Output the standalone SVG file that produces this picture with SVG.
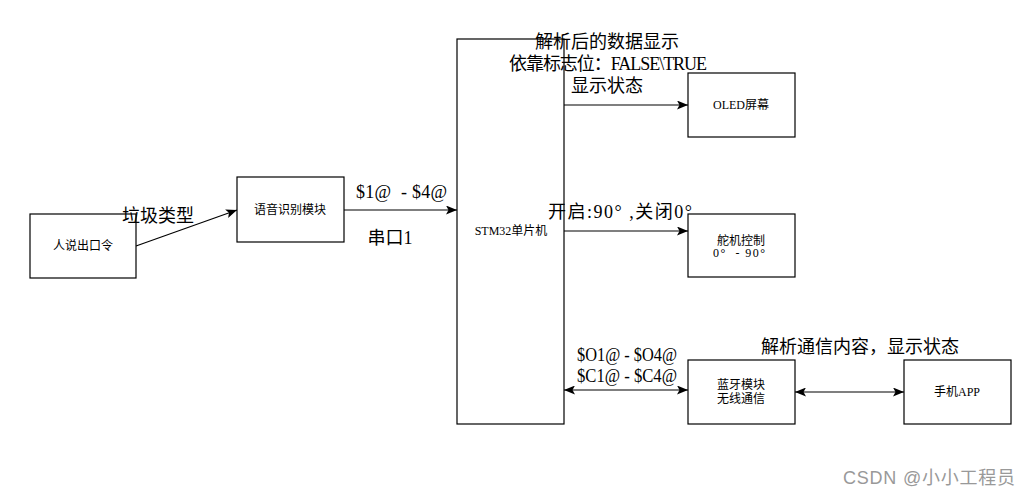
<svg xmlns="http://www.w3.org/2000/svg" width="1030" height="498" viewBox="0 0 1030 498">
<defs>
<style>
.box{fill:#fff;stroke:#000;stroke-width:1.2}
.ln{stroke:#000;stroke-width:1.2;fill:none}
.nl{font-family:"Liberation Serif","Noto Sans CJK SC",serif;font-size:12px;fill:#000;text-anchor:middle;dominant-baseline:central}
.lb{font-family:"Liberation Serif","Noto Sans CJK SC",serif;font-size:18px;fill:#000;text-anchor:middle;dominant-baseline:central}
.wm{font-family:"Liberation Sans","Noto Sans CJK SC",sans-serif;font-size:18px;fill:#999;dominant-baseline:central}
</style>
<marker id="ae" markerWidth="11" markerHeight="9" refX="11" refY="4.5" orient="auto" markerUnits="userSpaceOnUse"><path d="M0,0 L11,4.5 L0,9 L2.5,4.5 Z" fill="#000"/></marker>
<marker id="as" markerWidth="11" markerHeight="9" refX="0" refY="4.5" orient="auto" markerUnits="userSpaceOnUse"><path d="M11,0 L0,4.5 L11,9 L8.5,4.5 Z" fill="#000"/></marker>
</defs>
<rect width="1030" height="498" fill="#fff"/>
<g id="connectors">
<line class="ln" x1="136" y1="246" x2="237" y2="210" marker-end="url(#ae)"/>
<line class="ln" x1="344" y1="210" x2="457" y2="210" marker-end="url(#ae)"/>
<line class="ln" x1="564" y1="105" x2="688" y2="105" marker-end="url(#ae)"/>
<line class="ln" x1="564" y1="231" x2="688" y2="231" marker-end="url(#ae)"/>
<line class="ln" x1="564" y1="390" x2="688" y2="390" marker-start="url(#as)" marker-end="url(#ae)"/>
<line class="ln" x1="795" y1="392" x2="904" y2="392" marker-start="url(#as)" marker-end="url(#ae)"/>
</g>
<g id="node-person"><rect class="box" x="30" y="214" width="106" height="64"/><text class="nl" x="83" y="246">人说出口令</text></g>
<g id="node-voice"><rect class="box" x="237" y="177" width="107" height="65"/><text class="nl" x="290" y="210">语音识别模块</text></g>
<g id="node-stm32"><rect class="box" x="457" y="39" width="107" height="385"/><text class="nl" x="511" y="231">STM32单片机</text></g>
<g id="node-oled"><rect class="box" x="688" y="73" width="107" height="64"/><text class="nl" x="741" y="105">OLED屏幕</text></g>
<g id="node-servo"><rect class="box" x="688" y="214" width="107" height="63"/><text class="nl" x="741" y="241">舵机控制</text><text class="nl" x="739" y="253" textLength="52" lengthAdjust="spacing" xml:space="preserve">0°  - 90°</text></g>
<g id="node-bt"><rect class="box" x="688" y="360" width="107" height="64"/><text class="nl" x="741" y="385">蓝牙模块</text><text class="nl" x="741" y="399">无线通信</text></g>
<g id="node-app"><rect class="box" x="904" y="360" width="107" height="64"/><text class="nl" x="957" y="392">手机APP</text></g>
<g id="labels">
<text class="lb" x="158" y="216">垃圾类型</text>
<text class="lb" x="401.5" y="192" textLength="91" lengthAdjust="spacing" xml:space="preserve">$1@  - $4@</text>
<text class="lb" x="390" y="238">串口1</text>
<text class="lb" x="607" y="42">解析后的数据显示</text>
<text class="lb" x="608" y="64" textLength="198" lengthAdjust="spacing">依靠标志位：FALSE\TRUE</text>
<text class="lb" x="607" y="86">显示状态</text>
<text class="lb" x="620" y="212" textLength="144" lengthAdjust="spacing" xml:space="preserve">开启:90° ,关闭0°</text>
<text class="lb" x="627" y="355" textLength="100" lengthAdjust="spacingAndGlyphs">$O1@ - $O4@</text>
<text class="lb" x="627" y="376" textLength="100" lengthAdjust="spacingAndGlyphs">$C1@ - $C4@</text>
<text class="lb" x="860" y="347">解析通信内容，显示状态</text>
</g>
<text class="wm" x="843" y="478" textLength="172" lengthAdjust="spacing">CSDN @小小工程员</text>
</svg>
